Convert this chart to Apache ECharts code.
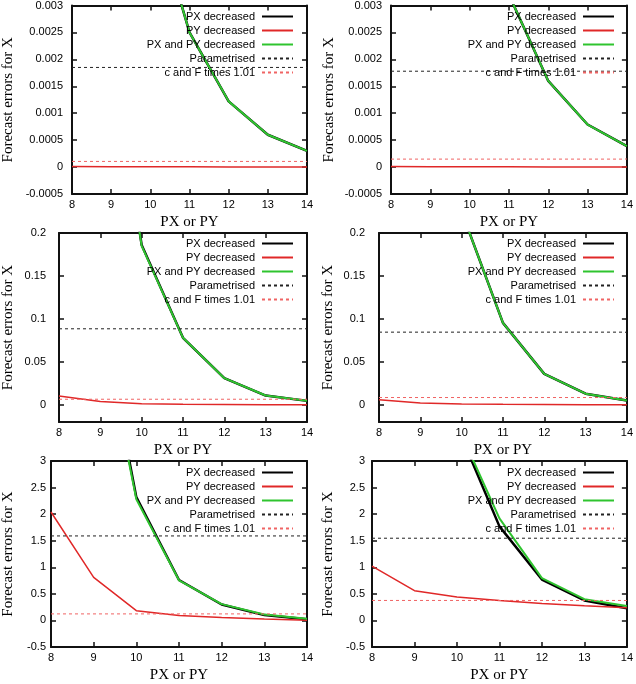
<!DOCTYPE html>
<html>
<head>
<meta charset="utf-8">
<script src="https://cdn.jsdelivr.net/npm/echarts@6/dist/echarts.min.js"></script>
<style>html,body{margin:0;padding:0;background:#fff}#c{width:636px;height:684px}</style>
</head>
<body>
<div id="c"></div>
<script>
// ---- data ----
const xValues = [8, 9, 10, 11, 12, 13, 14];
const seriesNames = ['PX decreased', 'PY decreased', 'PX and PY decreased', 'Parametrised', 'c and F times 1.01'];
const xAxisTitle = 'PX or PY';
const yAxisTitle = 'Forecast errors for X';

// panel 1 (top left)
const pxDec1   = [0.02, 0.01, 0.005, 0.0025, 0.00122, 0.0006, 0.0003];
const pyDec1   = [0.00001, 0.000008, 0.000006, 0.000004, 0.000003, 0.000002, 0.000001];
const pxpyDec1 = [0.02, 0.01, 0.005, 0.0025, 0.00122, 0.0006, 0.0003];
const param1 = 0.00185, cf1 = 0.000105;
// panel 2 (top right)
const pxDec2   = [0.026, 0.013, 0.0065, 0.0032, 0.0016, 0.00079, 0.00039];
const pyDec2   = [0.00001, 0.000008, 0.000006, 0.000004, 0.000003, 0.000002, 0.000001];
const pxpyDec2 = [0.026, 0.013, 0.0065, 0.0032, 0.0016, 0.00079, 0.00039];
const param2 = 0.00178, cf2 = 0.000148;
// panel 3 (middle left)
const pxDec3   = [1.1, 0.5, 0.186, 0.078, 0.031, 0.0108, 0.0046];
const pyDec3   = [0.0104, 0.0038, 0.0012, 0.0006, 0.0003, 0.0001, 0.00005];
const pxpyDec3 = [1.1, 0.5, 0.185, 0.078, 0.031, 0.0108, 0.0046];
const param3 = 0.0885, cf3 = 0.0065;
// panel 4 (middle right)
const pxDec4   = [1.3, 0.55, 0.225, 0.0954, 0.036, 0.013, 0.005];
const pyDec4   = [0.006, 0.002, 0.001, 0.0006, 0.0004, 0.0002, 0.0001];
const pxpyDec4 = [1.3, 0.55, 0.225, 0.0954, 0.036, 0.013, 0.005];
const param4 = 0.0846, cf4 = 0.0085;
// panel 5 (bottom left)
const pxDec5   = [15, 6.5, 2.32, 0.76, 0.30, 0.10, 0.02];
const pyDec5   = [2.04, 0.81, 0.184, 0.092, 0.055, 0.025, 0.005];
const pxpyDec5 = [14, 6.3, 2.28, 0.755, 0.307, 0.11, 0.03];
const param5 = 1.59, cf5 = 0.123;
// panel 6 (bottom right)
const pxDec6   = [12, 6.5, 3.66, 1.77, 0.77, 0.376, 0.23];
const pyDec6   = [1.02, 0.56, 0.44, 0.376, 0.32, 0.277, 0.24];
const pxpyDec6 = [12, 6.5, 3.69, 1.92, 0.795, 0.40, 0.27];
const param6 = 1.547, cf6 = 0.376;

// y-axis ranges and tick labels
const yTicksSmall = [-0.0005, 0, 0.0005, 0.001, 0.0015, 0.002, 0.0025, 0.003];
const yTicksMid   = [0, 0.05, 0.1, 0.15, 0.2];
const yTicksBig   = [-0.5, 0, 0.5, 1, 1.5, 2, 2.5, 3];

// ---- layout / style ----
const panels = [
  {px: pxDec1, py: pyDec1, pxpy: pxpyDec1, param: param1, cf: cf1, yt: yTicksSmall, ymin: -0.0005, ymax: 0.003,
   grid: {left: 72, top: 4, width: 235, height: 190}, lblM: 9, nameGapY: 56, nameGapX: 21, legend: {right: 342, top: 11}},
  {px: pxDec2, py: pyDec2, pxpy: pxpyDec2, param: param2, cf: cf2, yt: yTicksSmall, ymin: -0.0005, ymax: 0.003,
   grid: {left: 391, top: 4, width: 237, height: 190}, lblM: 9, nameGapY: 54, nameGapX: 21, legend: {right: 21, top: 11}},
  {px: pxDec3, py: pyDec3, pxpy: pxpyDec3, param: param3, cf: cf3, yt: yTicksMid, ymin: -0.02, ymax: 0.2,
   grid: {left: 59, top: 233, width: 248, height: 189}, lblM: 13, nameGapY: 43, nameGapX: 21, legend: {right: 342, top: 238}},
  {px: pxDec4, py: pyDec4, pxpy: pxpyDec4, param: param4, cf: cf4, yt: yTicksMid, ymin: -0.02, ymax: 0.2,
   grid: {left: 379, top: 233, width: 249, height: 189}, lblM: 14, nameGapY: 43, nameGapX: 21, legend: {right: 21, top: 238}},
  {px: pxDec5, py: pyDec5, pxpy: pxpyDec5, param: param5, cf: cf5, yt: yTicksBig, ymin: -0.5, ymax: 3,
   grid: {left: 51, top: 461, width: 256, height: 190}, lblM: 5, nameGapY: 35, nameGapX: 21, legend: {right: 342, top: 467}},
  {px: pxDec6, py: pyDec6, pxpy: pxpyDec6, param: param6, cf: cf6, yt: yTicksBig, ymin: -0.5, ymax: 3,
   grid: {left: 372, top: 461, width: 256, height: 190}, lblM: 7, nameGapY: 36, nameGapX: 21, legend: {right: 21, top: 467}}
];

const SANS = 'Liberation Sans';
const SERIF = 'Liberation Serif';
const colBlack = '#000000', colRed = '#e02828', colGreen = '#2fc42f', colRedDash = '#f06464';

const option = {animation: false, grid: [], xAxis: [], yAxis: [], series: [], legend: []};

const pairs = arr => xValues.map((x, i) => [x, arr[i]]);
const flat = v => [[xValues[0], v], [xValues[xValues.length - 1], v]];

const mkLine = () => ({show: true, onZero: false, lineStyle: {color: '#111', width: 2}});
const mkTick = () => ({show: true, inside: true, length: 5, lineStyle: {color: '#111', width: 1.5}});

panels.forEach((p, i) => {
  option.grid.push(Object.assign({show: false}, p.grid));
  // bottom x
  option.xAxis.push({type: 'value', gridIndex: i, min: 8, max: 14, interval: 1, position: 'bottom',
    axisLine: mkLine(), axisTick: mkTick(), splitLine: {show: false},
    axisLabel: {fontFamily: SANS, fontSize: 11, color: '#000', margin: 5},
    name: xAxisTitle, nameLocation: 'middle', nameGap: p.nameGapX,
    nameTextStyle: {fontFamily: SERIF, fontSize: 15, color: '#000'}});
  // top x (mirror)
  option.xAxis.push({type: 'value', gridIndex: i, min: 8, max: 14, interval: 1, position: 'top',
    axisLine: mkLine(), axisTick: mkTick(), splitLine: {show: false}, axisLabel: {show: false}});
  const useCustom = p.yt[0] !== p.ymin;
  const step = p.yt[2] - p.yt[1];
  const yTick = () => useCustom ? Object.assign({customValues: p.yt}, mkTick()) : mkTick();
  const yBase = () => Object.assign({type: 'value', gridIndex: i, min: p.ymin, max: p.ymax,
    splitLine: {show: false}}, useCustom ? {} : {interval: step});
  // left y
  option.yAxis.push(Object.assign(yBase(), {position: 'left',
    axisLine: mkLine(), axisTick: yTick(),
    axisLabel: Object.assign({fontFamily: SANS, fontSize: 11, color: '#000', margin: p.lblM}, useCustom ? {customValues: p.yt} : {}),
    name: yAxisTitle, nameLocation: 'middle', nameGap: p.nameGapY,
    nameTextStyle: {fontFamily: SERIF, fontSize: 15, color: '#000'}}));
  // right y (mirror)
  option.yAxis.push(Object.assign(yBase(), {position: 'right',
    axisLine: mkLine(), axisTick: yTick(), axisLabel: {show: false}}));

  const base = {type: 'line', xAxisIndex: 2 * i, yAxisIndex: 2 * i, symbol: 'none', clip: true};
  option.series.push(Object.assign({}, base, {name: seriesNames[0], data: pairs(p.px),
    lineStyle: {color: colBlack, width: 2.5}, itemStyle: {color: colBlack}}));
  option.series.push(Object.assign({}, base, {name: seriesNames[1], data: pairs(p.py),
    lineStyle: {color: colRed, width: 1.5}, itemStyle: {color: colRed}}));
  option.series.push(Object.assign({}, base, {name: seriesNames[2], data: pairs(p.pxpy),
    lineStyle: {color: colGreen, width: 2}, itemStyle: {color: colGreen}}));
  option.series.push(Object.assign({}, base, {name: seriesNames[3], data: flat(p.param),
    lineStyle: {color: '#222', width: 1, type: [3, 3]}, itemStyle: {color: '#222'}}));
  option.series.push(Object.assign({}, base, {name: seriesNames[4], data: flat(p.cf),
    lineStyle: {color: colRedDash, width: 1, type: [3, 3]}, itemStyle: {color: colRedDash}}));

  option.legend.push(Object.assign({orient: 'vertical', align: 'right', data: seriesNames,
    itemWidth: 31, itemHeight: 8, itemGap: 3, padding: 0, selectedMode: false,
    itemStyle: {opacity: 0},
    textStyle: {fontFamily: SANS, fontSize: 11, color: '#000', padding: [0, 2, 0, 0]}}, p.legend));
});

const chart = echarts.init(document.getElementById('c'), null, {renderer: 'canvas'});
chart.setOption(option);
</script>
</body>
</html>
